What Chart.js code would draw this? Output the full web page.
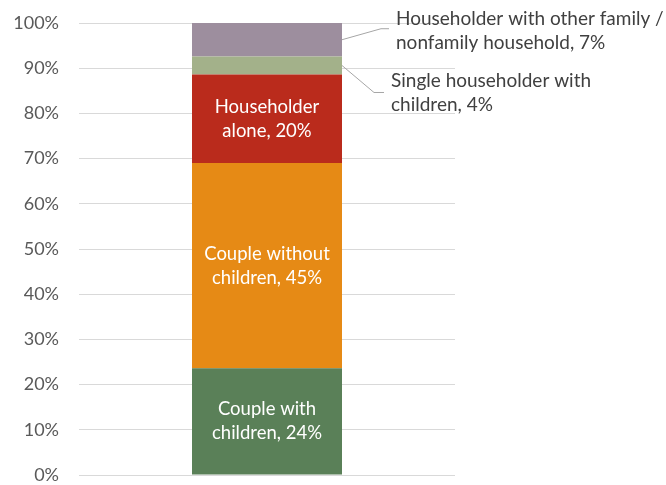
<!DOCTYPE html>
<html lang="en">
<head>
<meta charset="UTF-8">
<title>Household types</title>
<script src="https://cdn.jsdelivr.net/npm/chart.js"></script>
<style>body{margin:0;background:#fff}</style>
</head>
<body>
<canvas id="chart" width="666" height="485"></canvas>
<script>
// data
const categories = [''];
const seriesNames = [
  'Couple with children',
  'Couple without children',
  'Householder alone',
  'Single householder with children',
  'Householder with other family / nonfamily household'
];
const seriesValues = [23.6, 45.4, 19.6, 4.0, 7.4];
const labelLines = [
  ['Couple with', 'children, '],
  ['Couple without', 'children, '],
  ['Householder', 'alone, '],
  ['Single householder with', 'children, '],
  ['Householder with other family /', 'nonfamily household, ']
];
const seriesColors = ['#5a8058', '#e68a15', '#ba2b1c', '#a3b18a', '#9d8e9e'];
const yTicks = [0, 10, 20, 30, 40, 50, 60, 70, 80, 90, 100];

const FONT = 'Lato, "Noto Sans", sans-serif';

// leader lines for the thin segments (offsets from bar edge)
const leaders = {
  3: { dx: 32, dy: 27, len: 10, textDy: 0 },
  4: { dx: 39, dy: -11, len: 8, textDy: 2 }
};

const segmentLabels = {
  id: 'segmentLabels',
  afterDatasetsDraw(chart) {
    const ctx = chart.ctx;
    chart.data.datasets.forEach((ds, i) => {
      const bar = chart.getDatasetMeta(i).data[0];
      const mid = (bar.y + bar.base) / 2;
      const right = bar.x + bar.width / 2;
      const lines = labelLines[i].slice();
      lines[1] = lines[1] + Math.round(ds.data[0]) + '%';
      ctx.save();
      ctx.textBaseline = 'middle';
      if (leaders[i]) {
        const l = leaders[i];
        const ey = mid + l.dy;
        ctx.strokeStyle = '#a6a6a6';
        ctx.lineWidth = 1;
        ctx.beginPath();
        ctx.moveTo(right, mid);
        ctx.lineTo(right + l.dx, ey);
        ctx.lineTo(right + l.dx + l.len, ey);
        ctx.stroke();
        ctx.font = '19px ' + FONT;
        ctx.fillStyle = '#404040';
        ctx.textAlign = 'left';
        const tx = right + l.dx + l.len + 7;
        const ty = ey + l.textDy;
        ctx.fillText(lines[0], tx, ty - 12);
        ctx.fillText(lines[1], tx, ty + 12);
      } else {
        ctx.font = '18.5px ' + FONT;
        ctx.fillStyle = '#ffffff';
        ctx.textAlign = 'center';
        ctx.fillText(lines[0], bar.x, mid - 12);
        ctx.fillText(lines[1], bar.x, mid + 12);
      }
      ctx.restore();
    });
  }
};

new Chart(document.getElementById('chart'), {
  type: 'bar',
  data: {
    labels: categories,
    datasets: seriesNames.map((name, i) => ({
      label: name,
      data: [seriesValues[i]],
      backgroundColor: seriesColors[i],
      borderWidth: 0,
      barPercentage: 150 / 376,
      categoryPercentage: 1
    }))
  },
  options: {
    responsive: false,
    animation: false,
    layout: { padding: { left: 0, right: 211, top: 23, bottom: 10 } },
    plugins: {
      legend: { display: false },
      tooltip: { enabled: false }
    },
    scales: {
      x: { stacked: true, display: false },
      y: {
        stacked: true,
        min: 0,
        max: 100,
        afterFit(scale) {
          scale.width = 79;
          scale.paddingTop = 0;
          scale.paddingBottom = 0;
        },
        afterBuildTicks(scale) { scale.ticks = yTicks.map(v => ({ value: v })); },
        border: { display: false },
        grid: { color: '#d9d9d9', lineWidth: 1, drawTicks: false },
        ticks: {
          padding: 20,
          color: '#595959',
          font: { family: FONT, size: 18 },
          callback: v => v + '%'
        }
      }
    }
  },
  plugins: [segmentLabels]
});
</script>
</body>
</html>
